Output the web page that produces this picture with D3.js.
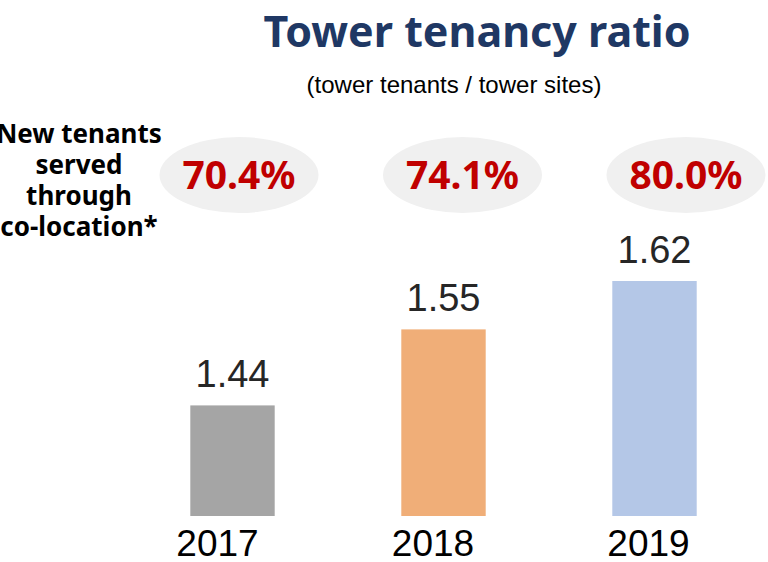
<!DOCTYPE html>
<html>
<head>
<meta charset="utf-8">
<script src="https://cdn.jsdelivr.net/npm/d3@7"></script>
<style>
  html, body { margin: 0; padding: 0; background: #fff; }
  svg { display: block; }
</style>
</head>
<body>
<svg id="chart" width="768" height="562"></svg>
<script>
var totalW = 768;
var totalH = 562;

// data
var years = ['2017', '2018', '2019'];
var ratios = [1.44, 1.55, 1.62];
var coloc = ['70.4%', '74.1%', '80.0%'];
var barColors = ['#a5a5a5', '#f0ae78', '#b4c7e7'];
var sideLines = ['New tenants', 'served', 'through', 'co-location*'];

var svg = d3.select('#chart');

// scales
var x = d3.scaleBand().domain(years).range([127, 760]).paddingInner(0.6).paddingOuter(0.3);
var y = d3.scaleLinear().domain([1.28, 1.62]).range([516, 281]);
var xBubble = d3.scalePoint().domain(years).range([239, 686]);
var xLabel = d3.scalePoint().domain(years).range([217, 648]);

// title
svg.append('text')
    .attr('x', 477).attr('y', 47)
    .attr('text-anchor', 'middle')
    .style('font-family', 'Noto Sans, sans-serif')
    .style('font-weight', 'bold')
    .style('font-size', '43px')
    .attr('fill', '#1f3864')
    .text('Tower tenancy ratio');

svg.append('text')
    .attr('x', 454).attr('y', 93)
    .attr('text-anchor', 'middle')
    .style('font-family', 'Liberation Sans, Arial, sans-serif')
    .style('font-size', '24px')
    .attr('fill', '#000')
    .text('(tower tenants / tower sites)');

// left label
var side = svg.append('text')
    .attr('text-anchor', 'middle')
    .style('font-family', 'Noto Sans, sans-serif')
    .style('font-weight', 'bold')
    .style('font-size', '26px')
    .attr('fill', '#000');
side.selectAll('tspan')
    .data(sideLines)
    .enter()
    .append('tspan')
    .attr('x', 79)
    .attr('y', function(d, i) { return 143 + i * 31; })
    .text(function(d) { return d; });

// co-location bubbles
var gBubble = svg.append('g').attr('class', 'bubbles');
gBubble.selectAll('ellipse')
    .data(years)
    .enter()
    .append('ellipse')
    .attr('cx', function(d) { return xBubble(d); })
    .attr('cy', 175)
    .attr('rx', 79.5)
    .attr('ry', 38)
    .attr('fill', '#f0f0f0');
gBubble.selectAll('text')
    .data(years)
    .enter()
    .append('text')
    .attr('x', function(d) { return xBubble(d); })
    .attr('y', 189)
    .attr('text-anchor', 'middle')
    .style('font-family', 'Noto Sans, sans-serif')
    .style('font-weight', 'bold')
    .style('font-size', '39px')
    .attr('fill', '#c00000')
    .text(function(d, i) { return coloc[i]; });

// bars
var gBar = svg.append('g').attr('class', 'bars');
gBar.selectAll('rect')
    .data(years)
    .enter()
    .append('rect')
    .attr('x', function(d) { return x(d); })
    .attr('y', function(d, i) { return y(ratios[i]); })
    .attr('width', x.bandwidth())
    .attr('height', function(d, i) { return y(1.28) - y(ratios[i]); })
    .attr('fill', function(d, i) { return barColors[i]; });

gBar.selectAll('text.val')
    .data(years)
    .enter()
    .append('text')
    .attr('class', 'val')
    .attr('x', function(d) { return x(d) + x.bandwidth() / 2; })
    .attr('y', function(d, i) { return y(ratios[i]) - 18; })
    .attr('text-anchor', 'middle')
    .style('font-family', 'Liberation Sans, Arial, sans-serif')
    .style('font-size', '38px')
    .attr('fill', '#262626')
    .text(function(d, i) { return ratios[i].toFixed(2); });

// x axis labels
var xAxis = d3.axisBottom(xLabel).tickSize(0).tickPadding(0);
var gAxis = svg.append('g')
    .attr('transform', 'translate(0,516)')
    .call(xAxis);
gAxis.select('.domain').remove();
gAxis.selectAll('text')
    .attr('dy', null)
    .attr('y', 40)
    .style('font-family', 'Liberation Sans, Arial, sans-serif')
    .style('font-size', '37px')
    .attr('fill', '#000');
</script>
</body>
</html>
